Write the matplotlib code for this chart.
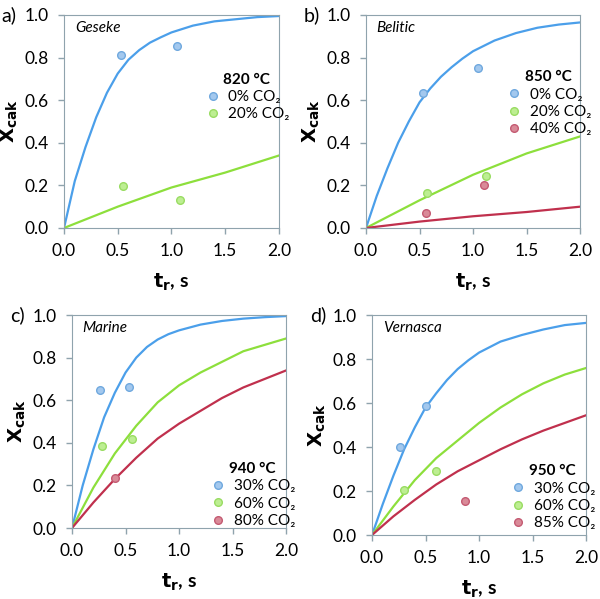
import numpy as np
import matplotlib
matplotlib.use("Agg")
import matplotlib.pyplot as plt

plt.rcParams['font.family'] = ['Lato', 'DejaVu Sans']

# model curves
t_a = [0, 0.1, 0.2, 0.3, 0.4, 0.5, 0.6, 0.7, 0.8, 0.9, 1.0, 1.2, 1.4, 1.6, 1.8, 2.0]
a_blue = [0, 0.22, 0.38, 0.52, 0.635, 0.725, 0.79, 0.835, 0.87, 0.895, 0.918, 0.95, 0.97, 0.98, 0.99, 0.995]
t_lin = [0, 0.5, 1.0, 1.5, 2.0]
a_green = [0, 0.1, 0.19, 0.26, 0.34]

b_blue = [0, 0.15, 0.28, 0.40, 0.50, 0.59, 0.655, 0.71, 0.755, 0.795, 0.83, 0.88, 0.915, 0.94, 0.955, 0.965]
b_green = [0, 0.13, 0.25, 0.35, 0.43]
b_red = [0, 0.03, 0.055, 0.075, 0.10]

c_blue = [0, 0.2, 0.37, 0.52, 0.635, 0.73, 0.80, 0.85, 0.885, 0.91, 0.928, 0.955, 0.972, 0.983, 0.99, 0.995]
t_c = [0, 0.2, 0.4, 0.6, 0.8, 1.0, 1.2, 1.4, 1.6, 1.8, 2.0]
c_green = [0, 0.19, 0.35, 0.48, 0.59, 0.67, 0.73, 0.78, 0.83, 0.86, 0.89]
c_red = [0, 0.12, 0.23, 0.33, 0.42, 0.49, 0.55, 0.61, 0.66, 0.70, 0.74]

d_blue = [0, 0.14, 0.27, 0.39, 0.49, 0.58, 0.645, 0.705, 0.755, 0.795, 0.83, 0.88, 0.91, 0.935, 0.955, 0.965]
d_green = [0, 0.13, 0.25, 0.35, 0.43, 0.51, 0.58, 0.64, 0.69, 0.73, 0.76]
d_red = [0, 0.085, 0.16, 0.23, 0.29, 0.34, 0.39, 0.435, 0.475, 0.51, 0.545]

# experimental points
a_pts_blue = ([0.53, 1.05], [0.81, 0.855])
a_pts_green = ([0.55, 1.08], [0.195, 0.13])
b_pts_blue = ([0.53, 1.05], [0.635, 0.75])
b_pts_green = ([0.57, 1.12], [0.165, 0.245])
b_pts_red = ([0.56, 1.1], [0.07, 0.2])
c_pts_blue = ([0.26, 0.53], [0.65, 0.66])
c_pts_green = ([0.28, 0.56], [0.385, 0.42])
c_pts_red = ([0.4], [0.235])
d_pts_blue = ([0.26, 0.5], [0.40, 0.585])
d_pts_green = ([0.3, 0.6], [0.205, 0.29])
d_pts_red = ([0.87], [0.155])

BLUE = '#4b9fea'
GREEN = '#8ddf3c'
RED = '#c0304d'
MK = {BLUE: ('#a3c8ee', '#6fa8de'), GREEN: ('#bdee92', '#99dc62'), RED: ('#d98a98', '#c45a72')}
SPINE = '#8fa3ad'

fig = plt.figure(figsize=(6, 5.99), dpi=100)

panels = [
    ([0.1067, 0.6194, 0.358, 0.3556], 'a)', 'Geseke', '820 °C',
     [(t_a, a_blue, BLUE), (t_lin, a_green, GREEN)],
     [(a_pts_blue, BLUE, '0% CO₂'), (a_pts_green, GREEN, '20% CO₂')],
     (0.6, 0.78)),
    ([0.61, 0.6194, 0.357, 0.3556], 'b)', 'Belitic', '850 °C',
     [(t_a, b_blue, BLUE), (t_lin, b_green, GREEN), (t_lin, b_red, RED)],
     [(b_pts_blue, BLUE, '0% CO₂'), (b_pts_green, GREEN, '20% CO₂'), (b_pts_red, RED, '40% CO₂')],
     (0.6, 0.79)),
    ([0.12, 0.1185, 0.357, 0.3556], 'c)', 'Marine', '940 °C',
     [(t_a, c_blue, BLUE), (t_c, c_green, GREEN), (t_c, c_red, RED)],
     [(c_pts_blue, BLUE, '30% CO₂'), (c_pts_green, GREEN, '60% CO₂'), (c_pts_red, RED, '80% CO₂')],
     (0.59, 0.36)),
    ([0.62, 0.1068, 0.357, 0.367], 'd)', 'Vernasca', '950 °C',
     [(t_a, d_blue, BLUE), (t_c, d_green, GREEN), (t_c, d_red, RED)],
     [(d_pts_blue, BLUE, '30% CO₂'), (d_pts_green, GREEN, '60% CO₂'), (d_pts_red, RED, '85% CO₂')],
     (0.59, 0.37)),
]

for rect, tag, name, temp, curves, points, legpos in panels:
    ax = fig.add_axes(rect)
    for t, y, c in curves:
        ax.plot(t, y, color=c, lw=1.6)
    for (px, py), c, lab in points:
        fc, ec = MK[c]
        ax.plot(px, py, 'o', ms=5.5, mfc=fc, mec=ec, mew=1.0, label=lab, linestyle='none')
    ax.set_xlim(0, 2)
    ax.set_ylim(0, 1)
    ax.set_xticks(np.arange(0, 2.01, 0.5))
    ax.set_yticks(np.arange(0, 1.01, 0.2))
    ax.set_xticklabels(['%.1f' % v for v in np.arange(0, 2.01, 0.5)])
    ax.set_yticklabels(['%.1f' % v for v in np.arange(0, 1.01, 0.2)])
    ax.tick_params(labelsize=12.5, colors=SPINE, labelcolor='black', length=4, width=1)
    ax.tick_params(axis='y', pad=7)
    ax.tick_params(axis='x', pad=7)
    for s in ax.spines.values():
        s.set_color(SPINE)
    ax.set_xlabel(r'$\mathbf{t_r}$, s', fontsize=14, fontweight='bold', labelpad=9)
    ax.set_ylabel(r'$\mathbf{X_{cak}}$', fontsize=14, fontweight='bold', labelpad=3)
    ax.text(0.05, 0.94, name, transform=ax.transAxes, style='italic', fontsize=11, va='center')
    ax.text(-0.29, 1.0, tag, transform=ax.transAxes, fontsize=14, va='center')
    leg = ax.legend(title=temp, loc='upper left', bbox_to_anchor=legpos, frameon=False,
                    fontsize=11, handletextpad=0.4, handlelength=1.2, labelspacing=0.22,
                    borderpad=0.2)
    leg.get_title().set_fontweight('bold')
    leg.get_title().set_fontsize(11)

fig.savefig('out.png', dpi=100)
